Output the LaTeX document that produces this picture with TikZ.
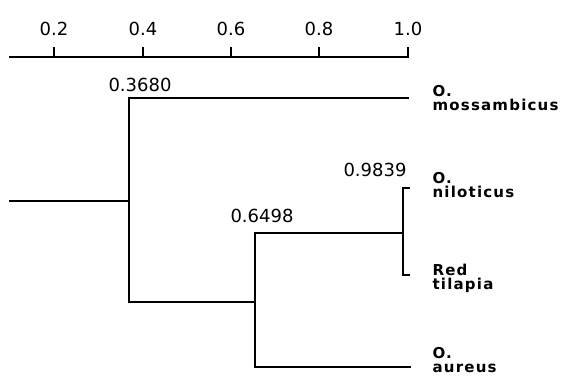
\documentclass[tikz,border=0pt]{standalone}
\usepackage{fontspec}
\setmainfont{DejaVu Sans}
\newfontfamily\taxfont[LetterSpace=8]{DejaVu Sans}
\usetikzlibrary{positioning}

\begin{document}
\begin{tikzpicture}[x=1pt,y=-1pt,line width=1.2pt,
    val/.style={font=\fontsize{18}{18}\selectfont},
    taxon/.style={anchor=west,align=left,inner sep=0pt,font={\fontsize{15}{14}\taxfont\bfseries}}]
  \useasboundingbox (0,0) rectangle (565,376);
  % similarity scale
  \draw (9,57) -- (409,57);
  \foreach \i/\v/\x in {1/0.2/54, 2/0.4/143, 3/0.6/231, 4/0.8/319, 5/1.0/408}{
    \draw (\x,57) -- (\x,47);
    \node[val] (tick\i) at (\x,29) {\v};
  }
  % branch points
  \coordinate (root) at (9,201);
  \coordinate (n1) at (129,201);
  \coordinate (n2) at (255,302);
  \coordinate (n3) at (403,233);
  \coordinate (mosend) at (409,98);
  \coordinate (nilend) at (410,188);
  \coordinate (redend) at (410,275);
  \coordinate (aurend) at (411,367);
  % taxa
  \node[taxon] (mos) at (432,98) {O.\\mossambicus};
  \node[taxon] (nil) at (432,185) {O.\\niloticus};
  \node[taxon] (red) at (432,278) {Red\\tilapia};
  \node[taxon] (aur) at (432,360) {O.\\aureus};
  % tree
  \draw (root) -- (n1);
  \draw (mosend) -| (n1 |- n2) -- (n2);
  \draw (n3) -| (n2 |- aurend) -- (aurend);
  \draw (nilend) -| (n3 |- redend) -- (redend);
  % similarity values
  \node[val] (s1) at (140,85) {0.3680};
  \node[val] (s2) at (262,216) {0.6498};
  \node[val] (s3) at (375,170) {0.9839};
\end{tikzpicture}
\end{document}
